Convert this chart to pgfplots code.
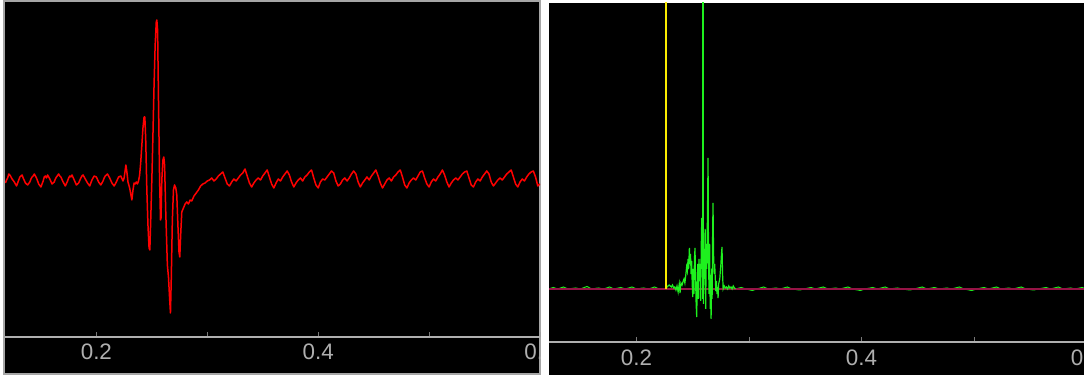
\documentclass[border=0pt]{standalone}
\usepackage{pgfplots}
\usepackage{pgfplotstable}
\pgfplotsset{compat=1.18}
\usepackage{fontspec}
\setmainfont{Liberation Sans}
\definecolor{sigred}{RGB}{255,0,0}
\definecolor{siggreen}{RGB}{30,240,30}
\definecolor{sigyellow}{RGB}{250,235,0}
\definecolor{basemag}{RGB}{150,20,70}
\definecolor{axgray}{RGB}{175,175,175}
\definecolor{tickgray}{RGB}{120,120,120}

\pgfplotstableread{
x y
0.118 -3
0.119 0
0.120 2
0.121 6
0.122 5
0.123 3
0.124 1
0.126 -2
0.127 -4
0.128 -6
0.130 0
0.131 3
0.132 4
0.133 5
0.134 2
0.136 -3
0.138 -5
0.140 -2
0.141 1
0.142 3
0.143 4
0.144 6
0.146 2
0.148 -4
0.150 -7
0.152 -1
0.153 3
0.154 4
0.155 2
0.156 5
0.158 1
0.160 -4
0.162 -2
0.163 1
0.164 3
0.166 6
0.167 4
0.168 3
0.170 -2
0.172 -6
0.174 -1
0.175 2
0.176 4
0.177 3
0.178 5
0.180 0
0.182 -5
0.184 -3
0.186 2
0.187 4
0.188 5
0.190 1
0.192 -3
0.194 -6
0.196 0
0.197 2
0.198 4
0.200 3
0.202 -2
0.204 -5
0.206 -1
0.207 2
0.208 4
0.210 6
0.212 2
0.214 -3
0.216 -6
0.218 -2
0.220 3
0.222 4
0.224 -1
0.2250 2
0.2260 10
0.2266 15
0.2275 8
0.2285 -2
0.2300 -8
0.2310 -14
0.2320 -20
0.2330 -10
0.2340 -3
0.2350 -4
0.2360 -2
0.2370 -4
0.2380 -1
0.2390 5
0.2400 18
0.2410 35
0.2420 52
0.2430 63
0.2437 63
0.2445 40
0.2455 -10
0.2465 -45
0.2475 -68
0.2482 -70
0.2490 -40
0.2500 0
0.2510 45
0.2520 95
0.2530 135
0.2540 158
0.2545 160
0.2552 150
0.2560 80
0.2570 0
0.2578 -40
0.2583 -38
0.2590 0
0.2600 20
0.2608 23
0.2615 15
0.2625 -30
0.2640 -85
0.2650 -97
0.2660 -118
0.2668 -133
0.2675 -100
0.2685 -40
0.2695 -10
0.2705 -5
0.2716 -8
0.2725 -15
0.2735 -45
0.2745 -72
0.2752 -77
0.2760 -55
0.2770 -32
0.2785 -28
0.2800 -24
0.2815 -22
0.2830 -24
0.2845 -20
0.2860 -21
0.2880 -16
0.2900 -13
0.2920 -10
0.2940 -6
0.2960 -4
0.2980 -3
0.3000 -1
0.302 0
0.304 2
0.306 -1
0.308 1
0.310 4
0.312 6
0.314 8
0.316 2
0.318 -4
0.320 -6
0.322 -2
0.324 1
0.326 -1
0.328 2
0.330 5
0.332 7
0.334 11
0.336 4
0.338 -3
0.340 -7
0.342 -3
0.344 0
0.346 2
0.348 0
0.350 4
0.352 7
0.354 10
0.356 3
0.358 -4
0.360 -8
0.362 -3
0.364 1
0.366 -1
0.368 3
0.370 6
0.372 9
0.374 5
0.376 -2
0.378 -7
0.380 -3
0.382 0
0.384 2
0.386 -1
0.388 3
0.390 5
0.392 8
0.394 10
0.396 2
0.398 -5
0.400 -8
0.402 -2
0.404 1
0.406 0
0.408 3
0.410 6
0.412 9
0.414 7
0.416 -1
0.418 -6
0.420 -4
0.422 0
0.424 2
0.426 -1
0.428 2
0.430 6
0.432 9
0.434 6
0.436 -2
0.438 -7
0.440 -3
0.442 0
0.444 3
0.446 0
0.448 4
0.450 7
0.452 10
0.454 4
0.456 -3
0.458 -8
0.460 -4
0.462 0
0.464 2
0.466 -1
0.468 3
0.470 5
0.472 8
0.474 10
0.476 3
0.478 -5
0.480 -8
0.482 -3
0.484 0
0.486 2
0.488 0
0.490 4
0.492 8
0.494 9
0.496 2
0.498 -4
0.500 -7
0.502 -2
0.504 1
0.506 -1
0.508 3
0.510 6
0.512 10
0.514 5
0.516 -2
0.518 -7
0.520 -3
0.522 0
0.524 2
0.526 0
0.528 3
0.530 6
0.532 8
0.534 9
0.536 2
0.538 -5
0.540 -7
0.542 -2
0.544 1
0.546 -1
0.548 3
0.550 6
0.552 9
0.554 6
0.556 -2
0.558 -6
0.560 -3
0.562 0
0.564 2
0.566 0
0.568 3
0.570 6
0.572 8
0.574 10
0.576 3
0.578 -4
0.580 -7
0.582 -2
0.584 1
0.586 -1
0.588 3
0.590 6
0.592 8
0.594 9
0.596 3
0.598 -6
0.600 -4
}\leftsig

\pgfplotstableread{
x y
0.2262 0
0.2270 2
0.2280 3
0.2290 4
0.2300 3
0.2310 2
0.2320 4
0.2330 1
0.2340 2
0.2350 -1
0.2360 3
0.2370 -3
0.2380 5
0.2387 -4
0.2395 6
0.2405 4
0.2415 8
0.2422 10
0.2430 6
0.2438 14
0.2445 22
0.2452 18
0.2458 30
0.2463 20
0.2470 41
0.2476 25
0.2480 35
0.2485 15
0.2490 28
0.2495 5
0.2500 -8
0.2505 20
0.2510 -5
0.2515 30
0.2520 41
0.2525 10
0.2530 -15
0.2535 -28
0.2540 5
0.2545 25
0.2550 -10
0.2555 30
0.2560 15
0.2565 25
0.2570 -12
0.2575 40
0.2580 71
0.2585 20
0.2590 55
0.2595 -15
0.2600 40
0.2605 10
0.2610 60
0.2615 -20
0.2620 45
0.2625 20
0.2630 70
0.2636 131
0.2640 30
0.2645 -5
0.2650 45
0.2655 -20
0.2660 10
0.2663 -30
0.2668 20
0.2672 -10
0.2676 50
0.2680 86
0.2685 35
0.2690 15
0.2695 25
0.2700 11
0.2705 -2
0.2710 8
0.2715 -5
0.2720 2
0.2725 -9
0.2730 5
0.2740 10
0.2750 25
0.2755 35
0.2760 42
0.2765 15
0.2770 0
0.2780 3
0.2790 1
0.2800 2
0.2810 0
0.2820 3
0.2830 1
0.2840 2
0.2850 0
0.2860 3
0.2870 1
0.2880 0
}\rightburst

\pgfplotstableread{
x y
0.122 0
0.126 1.5
0.130 0
0.135 2
0.139 0
0.146 1
0.150 0
0.156 2.5
0.160 0
0.166 1
0.171 0
0.176 2
0.180 0
0.186 1.5
0.190 0
0.196 2
0.200 0
0.206 1
0.211 0
0.216 2
0.220 0
0.226 0
0.288 0
0.293 1.5
0.297 0
0.303 -1.5
0.307 0
0.313 2
0.317 0
0.324 1
0.328 0
0.334 2
0.338 0
0.345 -1
0.349 0
0.355 1.5
0.359 0
0.366 2
0.370 0
0.377 1
0.381 0
0.388 2
0.392 0
0.399 -1.5
0.403 0
0.410 1.5
0.414 0
0.421 2
0.425 0
0.432 1
0.436 0
0.443 -1
0.447 0
0.454 2
0.458 0
0.465 1.5
0.469 0
0.476 1
0.480 0
0.487 2
0.491 0
0.498 -1.5
0.502 0
0.509 1.5
0.513 0
0.520 2
0.524 0
0.531 1
0.535 0
0.542 2
0.546 0
0.553 -1
0.557 0
0.564 1.5
0.568 0
0.575 2
0.579 0
0.586 1
0.590 0
0.596 1.5
0.600 0
}\rightnoise

\pgfplotsset{
  scopeaxis/.style={
    scale only axis,
    axis x line=bottom,
    axis y line=none,
    x axis line style={-, axgray, line width=0.6pt},
    xtick={0.2,0.3,0.4,0.5,0.6},
    xticklabels={0.2,,0.4,,0.6},
    xtick align=inside,
    major tick length=2.5pt,
    every tick/.style={tickgray, line width=0.5pt},
    tick label style={font=\fontsize{11.2}{13}\selectfont, text=axgray},
    /pgf/number format/assume math mode=true,
    clip mode=individual,
  }
}

\begin{document}
\begin{tikzpicture}
\useasboundingbox (0pt,0pt) rectangle (542pt,189pt);
\fill[white] (0pt,0pt) rectangle (542pt,189pt);
\fill[black] (2pt,2pt) rectangle (270pt,188.5pt);
\draw[gray!70, line width=0.6pt] (2pt,2pt) rectangle (270pt,188.5pt);
\fill[black] (274.5pt,1.5pt) rectangle (542pt,187.5pt);

\begin{scope}
\clip (2pt,2pt) rectangle (270pt,188.5pt);
\begin{axis}[scopeaxis,
  at={(2.5pt,20.5pt)}, anchor=south west,
  width=267.5pt, height=167.5pt,
  xmin=0.1176, xmax=0.6,
  ymin=-157, ymax=178,
  xticklabel style={anchor=center, yshift=-7.5pt},
]
\addplot[sigred, line width=0.75pt, no markers, line join=round] table {\leftsig};
\end{axis}
\end{scope}

\begin{scope}
\clip (274.5pt,1.5pt) rectangle (542pt,187.5pt);
\begin{axis}[scopeaxis,
  at={(274.5pt,18pt)}, anchor=south west,
  width=268.75pt, height=169.5pt,
  xmin=0.1222, xmax=0.6,
  ymin=-53, ymax=286,
  xticklabel style={anchor=center, yshift=-8pt},
]
\addplot[siggreen, line width=0.5pt, no markers] table {\rightnoise};
\addplot[basemag, line width=0.6pt, no markers] coordinates {(0.1222,0) (0.6,0)};
\addplot[siggreen, line width=0.6pt, no markers] table {\rightburst};
\addplot[sigyellow, line width=0.9pt, no markers] coordinates {(0.2262,0) (0.2262,400)};
\addplot[siggreen, line width=0.9pt, no markers] coordinates {(0.2588,-10) (0.2588,400)};
\end{axis}
\end{scope}
\end{tikzpicture}
\end{document}
